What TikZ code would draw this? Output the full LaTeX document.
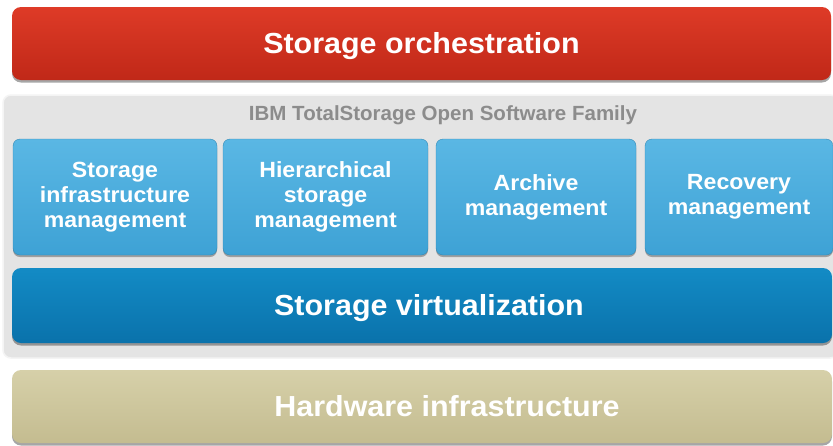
\documentclass[tikz,border=0pt]{standalone}
\usepackage{fontspec}
\setmainfont{Liberation Sans}
\newfontfamily\lblfont{Liberation Sans}[FakeStretch=1.05]
\usetikzlibrary{shadows}
\definecolor{redtop}{HTML}{DE3B27}
\definecolor{redbot}{HTML}{C02818}
\definecolor{bluetop}{HTML}{5AB7E4}
\definecolor{bluebot}{HTML}{3EA2D5}
\definecolor{vtop}{HTML}{138BC5}
\definecolor{vbot}{HTML}{0A72AB}
\definecolor{hwtop}{HTML}{D6D0A9}
\definecolor{hwbot}{HTML}{C4BC90}
\definecolor{panelfill}{HTML}{E4E4E4}
\definecolor{panelline}{HTML}{F4F4F4}
\definecolor{famgray}{HTML}{8C8C8C}
\tikzset{
  bar/.style={rectangle, rounded corners=9pt, inner sep=0pt,
    text height=20.8pt, text depth=0pt,
    drop shadow={shadow xshift=0pt, shadow yshift=-2.5pt, opacity=0.35, fill=black},
    text=white, font=\lblfont\bfseries\fontsize{29}{32}\selectfont},
  modbox/.style={rectangle, rounded corners=7pt, inner sep=0pt,
    top color=bluetop, bottom color=bluebot, draw=bluebot!85!black, line width=0.4pt,
    drop shadow={shadow xshift=0pt, shadow yshift=-2pt, opacity=0.3, fill=black},
    text=white, align=center, font=\lblfont\bfseries\fontsize{22}{25}\selectfont},
}
\begin{document}
\begin{tikzpicture}[x=1pt,y=-1pt]
\useasboundingbox (0,0) rectangle (833,445);
\fill[white] (0,0) rectangle (833,445);
% software family panel
\node[rectangle, rounded corners=8pt, fill=panelfill, draw=panelline, line width=1.5pt,
      minimum width=835pt, minimum height=263pt] (panel) at (420.5,226.5) {};
\node[text=famgray, inner sep=0pt, text height=14.7pt, text depth=0pt,
      font=\bfseries\fontsize{20.5}{23}\selectfont] (fam) at (443,113)
  {IBM TotalStorage Open Software Family};
% top bar
\node[bar, top color=redtop, bottom color=redbot, minimum width=819pt, minimum height=73pt]
  (orch) at (421.5,43.5) {Storage orchestration};
% module boxes
\node[modbox, minimum width=204pt, minimum height=116pt] (sim) at (115,197)
  {Storage\\infrastructure\\management};
\node[modbox, minimum width=205pt, minimum height=116pt] (hsm) at (325.5,197)
  {Hierarchical\\storage\\management};
\node[modbox, minimum width=200pt, minimum height=116pt] (arc) at (536,197)
  {Archive\\management};
\node[modbox, minimum width=188pt, minimum height=116pt] (rec) at (739,197)
  {Recovery\\management};
% virtualization
\node[bar, top color=vtop, bottom color=vbot, minimum width=820pt, minimum height=75pt]
  (virt) at (422,305.5) {\hspace*{14pt}Storage virtualization};
% hardware
\node[bar, top color=hwtop, bottom color=hwbot, minimum width=820pt, minimum height=73pt]
  (hw) at (422,406.5) {\hspace*{50pt}Hardware infrastructure};
\end{tikzpicture}
\end{document}
